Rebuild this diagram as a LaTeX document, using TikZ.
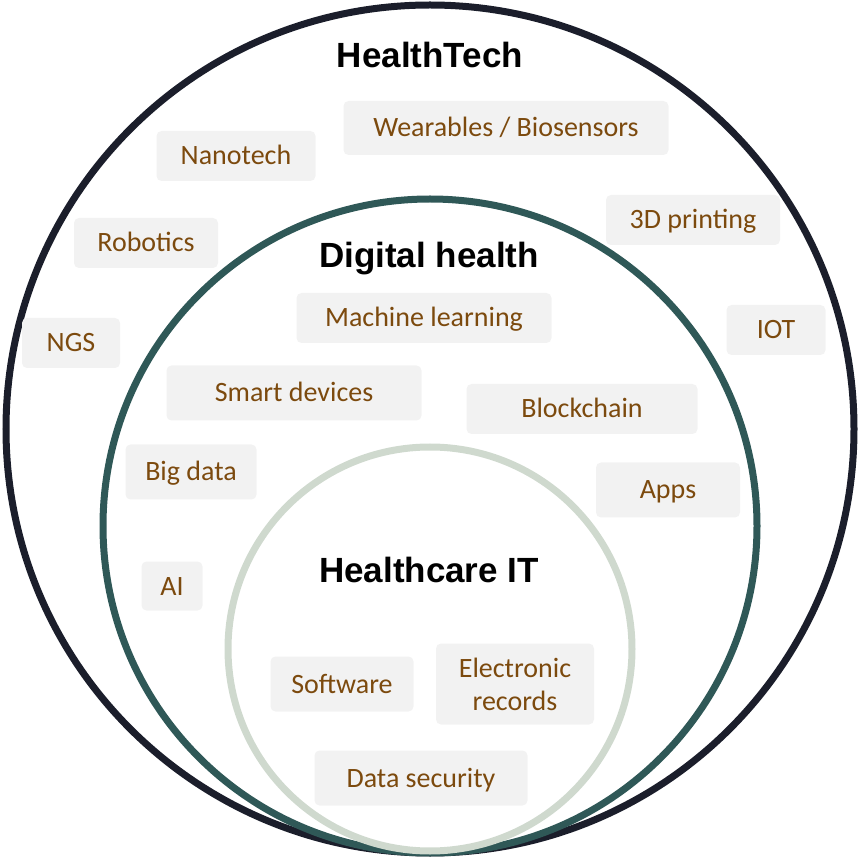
\documentclass[tikz,border=0pt]{standalone}
\usepackage{fontspec}
\setmainfont{Carlito}
\newfontfamily\titlefont{Liberation Sans}
\definecolor{ringtech}{HTML}{1B1E2B}
\definecolor{ringdigital}{HTML}{2F5857}
\definecolor{ringit}{HTML}{CFD9CE}
\definecolor{boxgrey}{HTML}{F2F2F2}
\definecolor{itembrown}{HTML}{7C4A0E}
\begin{document}
\begin{tikzpicture}
  [x=1pt,y=-1pt,every node/.style={rounded corners=5pt,fill=boxgrey,text=itembrown,inner sep=0pt,
   font=\fontsize{28}{33}\selectfont}]
  \tikzstyle{title} = [fill=none,text=black,anchor=base,font=\titlefont\bfseries\fontsize{35}{40}\selectfont]
  \tikzstyle{item} = [text height=18pt,text depth=0pt]
  \useasboundingbox (0,0) rectangle (860,858);
  % the three rings
  \draw[ringtech,line width=7pt] (430,429) circle[radius=424pt];
  \draw[ringdigital,line width=7pt] (430,526) circle[radius=327pt];
  \draw[ringit,line width=7pt] (430,649) circle[radius=202pt];
  \node[title] (healthtech) at (430,68) {HealthTech};
  \node[title] (digital) at (429,268) {Digital health};
  \node[title] (healthit) at (429,582) {Healthcare IT};
\foreach \name/\x/\y/\w/\h/\label in {wear/506/128/325/54/{Wearables / Biosensors},
    nano/236/156/159/50/Nanotech, robo/146/243/144/50/Robotics, ngs/71/343/98/50/NGS,
    print/693/220/174/50/3D printing, iot/776/330/99/50/IOT, ml/424/318/255/50/Machine learning,
    smart/294/393/255/55/Smart devices, block/582/409/231/50/Blockchain, big/191/472/131/55/Big data,
    apps/668/490/144/55/Apps, ai/172/586/61/49/AI, soft/342/684/143/55/Software,
    sec/421/778/213/55/Data security}
   \node[item,minimum width=\w pt,minimum height=\h pt] (\name) at (\x,\y) {\label};
  \node[minimum width=158pt,minimum height=81pt,align=center] (erec) at (515,684) {Electronic\\records};

\end{tikzpicture}
\end{document}
